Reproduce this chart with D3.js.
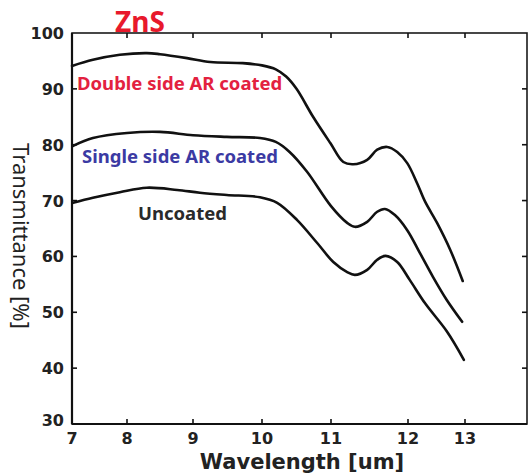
<!DOCTYPE html>
<html><head><meta charset="utf-8">
<script src="https://cdn.jsdelivr.net/npm/d3@7"></script>
<style>
html,body{margin:0;padding:0;background:#fff;}
svg{display:block;}
text{font-family:"Noto Sans","Open Sans",sans-serif;}
</style></head>
<body><svg id="c" width="531" height="475"></svg>
<script>
const title = "ZnS";
const xTicks = [7, 8, 9, 10, 11, 12, 13];
const yTicks = [30, 40, 50, 60, 70, 80, 90, 100];
const xLabel = "Wavelength [um]";
const yLabel = "Transmittance [%]";
const seriesNames = ["Double side AR coated", "Single side AR coated", "Uncoated"];
const doubleX = [7.0, 7.38, 7.87, 8.3, 8.5, 8.91, 9.25, 9.72, 10.0, 10.2, 10.35, 10.5, 10.74, 10.99, 11.16, 11.29, 11.47, 11.6, 11.73, 11.86, 11.99, 12.16, 12.3, 12.51, 12.74, 12.96];
const doubleY = [94.1, 95.2, 96.1, 96.4, 96.2, 95.5, 94.8, 94.6, 94.2, 93.5, 92.2, 90.0, 85.0, 80.3, 76.9, 76.5, 77.3, 79.1, 79.6, 78.7, 76.7, 73.1, 69.8, 66.0, 61.2, 55.6];
const singleX = [7.02, 7.38, 8.0, 8.5, 9.0, 9.49, 9.97, 10.2, 10.4, 10.65, 11.0, 11.21, 11.31, 11.47, 11.6, 11.7, 11.83, 11.99, 12.21, 12.44, 12.68, 12.95];
const singleY = [79.8, 81.2, 82.1, 82.3, 81.7, 81.4, 81.2, 80.5, 78.7, 75.2, 69.0, 66.0, 65.3, 66.2, 68.0, 68.5, 67.4, 64.7, 60.6, 56.3, 52.2, 48.3];
const uncoatedX = [7.02, 7.38, 7.87, 8.3, 8.76, 9.1, 9.49, 9.97, 10.22, 10.51, 10.8, 11.03, 11.21, 11.31, 11.47, 11.6, 11.71, 11.86, 12.03, 12.3, 12.68, 12.98];
const uncoatedY = [69.6, 70.5, 71.5, 72.3, 71.9, 71.4, 71.0, 70.6, 69.6, 66.5, 62.4, 59.0, 57.2, 56.7, 57.6, 59.4, 60.1, 59.0, 55.8, 51.6, 46.6, 41.5];

const svg = d3.select("#c");
const L = 72, R = 527, T = 33, B = 424;
const x = d3.scaleLinear().domain(xTicks).range([72, 127, 193, 262, 331, 408, 465]);
const y = d3.scaleLinear().domain([30, 100]).range([B, T]);

// frame
svg.append("rect").attr("x", L).attr("y", T).attr("width", R - L).attr("height", B - T)
  .attr("fill", "none").attr("stroke", "#1a1a1a").attr("stroke-width", 1.6);
svg.append("line").attr("x1", L).attr("x2", L).attr("y1", T).attr("y2", B)
  .attr("stroke", "#111").attr("stroke-width", 2.2);
svg.append("line").attr("x1", L).attr("x2", R).attr("y1", B).attr("y2", B)
  .attr("stroke", "#111").attr("stroke-width", 2.2);

// ticks (inward)
const tk = 5;
const inner = xTicks.slice(1);
svg.selectAll(".tb").data(inner).enter().append("line")
  .attr("x1", d => x(d)).attr("x2", d => x(d)).attr("y1", B).attr("y2", B - tk)
  .attr("stroke", "#111").attr("stroke-width", 1.6);
svg.selectAll(".tt").data(inner).enter().append("line")
  .attr("x1", d => x(d)).attr("x2", d => x(d)).attr("y1", T).attr("y2", T + tk)
  .attr("stroke", "#111").attr("stroke-width", 1.6);
const innerY = yTicks.slice(1, -1);
svg.selectAll(".tl").data(innerY).enter().append("line")
  .attr("x1", L).attr("x2", L + tk).attr("y1", d => y(d)).attr("y2", d => y(d))
  .attr("stroke", "#111").attr("stroke-width", 1.6);
svg.selectAll(".tr").data(innerY).enter().append("line")
  .attr("x1", R).attr("x2", R - tk).attr("y1", d => y(d)).attr("y2", d => y(d))
  .attr("stroke", "#111").attr("stroke-width", 1.6);

// tick labels
const tickFont = "'DejaVu Sans', sans-serif";
svg.selectAll(".yl").data(yTicks).enter().append("text")
  .attr("x", L - 8).attr("y", d => y(d) + 6 - (d === 30 ? 4 : 0))
  .attr("text-anchor", "end").attr("font-size", 16).attr("font-weight", "bold")
  .style("font-family", tickFont).attr("fill", "#222").text(d => d);
svg.selectAll(".xl").data(xTicks).enter().append("text")
  .attr("x", d => x(d)).attr("y", B + 20)
  .attr("text-anchor", "middle").attr("font-size", 16).attr("font-weight", "bold")
  .style("font-family", tickFont).attr("fill", "#222").text(d => d);

// axis titles
svg.append("text").attr("x", 302).attr("y", 469).attr("text-anchor", "middle")
  .attr("font-size", 21).attr("font-weight", "bold").style("font-family", tickFont)
  .attr("fill", "#222").text(xLabel);
svg.append("text").attr("transform", "translate(13,236) rotate(90)").attr("text-anchor", "middle")
  .attr("font-size", 22).attr("fill", "#222").text(yLabel);

// title
svg.append("text").attr("x", 140).attr("y", 32).attr("text-anchor", "middle")
  .attr("font-size", 28).attr("font-weight", "bold").attr("fill", "#e8192c").text(title);

// curves
const line = d3.line().x(d => x(d[0])).y(d => y(d[1])).curve(d3.curveCatmullRom.alpha(0.5));
[[doubleX, doubleY], [singleX, singleY], [uncoatedX, uncoatedY]].forEach(([xs, ys]) => {
  svg.append("path").datum(xs.map((v, i) => [v, ys[i]])).attr("d", line)
    .attr("fill", "none").attr("stroke", "#111").attr("stroke-width", 2.6)
    .attr("stroke-linecap", "round").attr("stroke-linejoin", "round");
});

// series labels
const labelColors = ["#e3213f", "#3b3aa3", "#2a2a2a"];
const labelPos = [[77, 90], [82, 163], [138, 220]];
seriesNames.forEach((n, i) => {
  svg.append("text").attr("x", labelPos[i][0]).attr("y", labelPos[i][1])
    .attr("font-size", 18.5).attr("font-weight", "bold")
    .attr("fill", labelColors[i]).text(n);
});
</script></body></html>
